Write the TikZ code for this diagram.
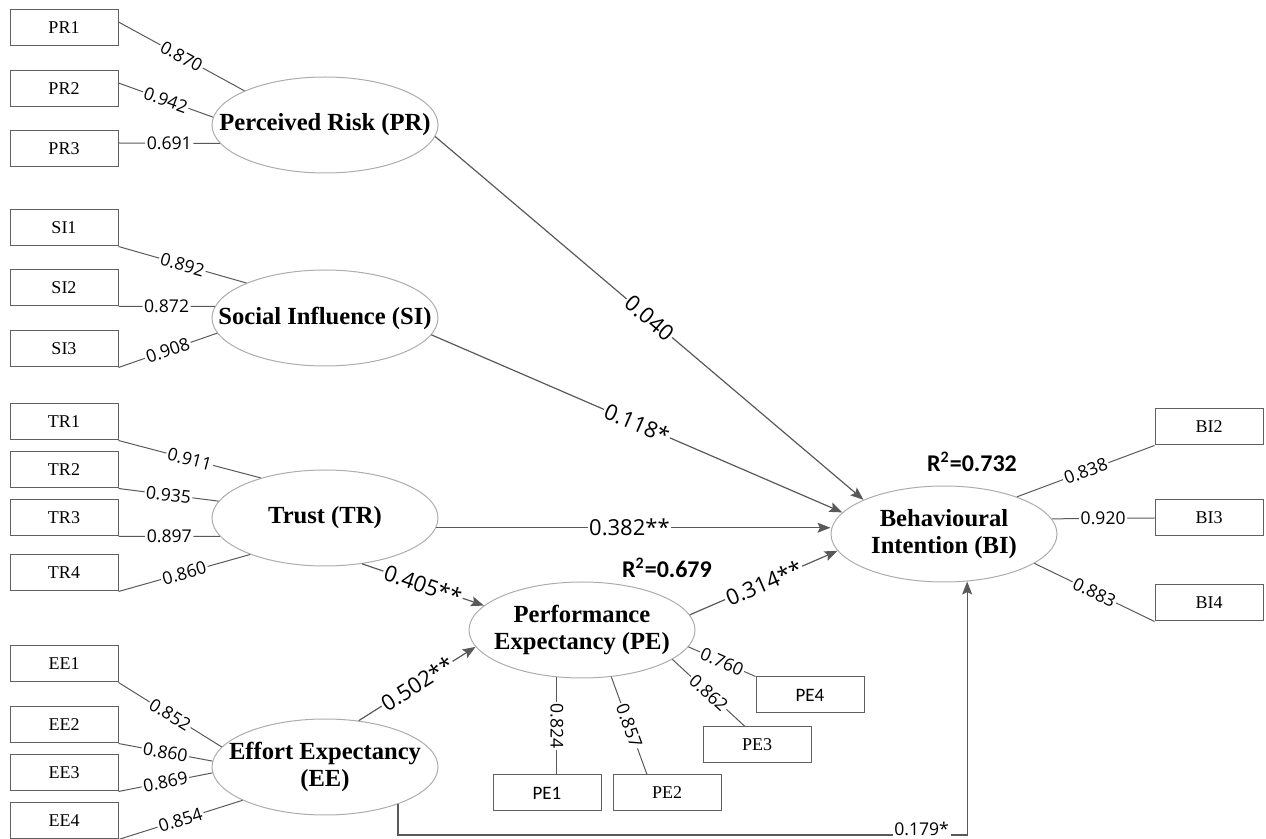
\documentclass[tikz,border=0pt]{standalone}
\usepackage{fontspec}
\setmainfont{Liberation Serif}
\newfontfamily\numfont{Open Sans}
\newfontfamily\calfont{Carlito}
\usetikzlibrary{calc,arrows.meta,shapes.geometric}

\begin{document}
\begin{tikzpicture}[x=0.5pt, y=-0.5pt,
    ind/.style={draw=gray!75!black, line width=0.5pt, minimum width=54pt, minimum height=18pt, inner sep=0pt, font=\fontsize{9}{10}\selectfont},
    indC/.style={ind, font=\calfont\fontsize{9.5}{10}\selectfont},
    lat/.style={ellipse, draw=gray!65, line width=0.5pt, minimum width=113pt, minimum height=48pt, inner xsep=-15pt, inner ysep=0pt, align=center, font=\fontsize{12.3}{13.8}\selectfont\bfseries},
    load/.style={draw=gray!70!black, line width=0.5pt},
    rel/.style={draw=gray!70!black, line width=0.6pt, -{Stealth[length=6.5pt, width=5pt, inset=1.2pt]}},
    ld/.style={font=\numfont\fontsize{8.8}{10}\selectfont, fill=white, inner sep=0.8pt, sloped},
    cf/.style={font=\numfont\fontsize{11}{12}\selectfont, fill=white, inner sep=0.8pt, sloped},
    rsq/.style={font=\calfont\bfseries\fontsize{12}{14}\selectfont}]

  \useasboundingbox (0,0) rectangle (1266,839);

  % ---------------- constructs ----------------
  \node[lat] (pr) at (325,125) {Perceived Risk (PR)};
  \node[lat] (si) at (325,318) {Social Influence (SI)};
  \node[lat] (tr) at (325,518) {Trust (TR)};
  \node[lat] (ee) at (325,767) {Effort Expectancy\\(EE)};
  \node[lat] (pe) at (582,630) {Performance\\Expectancy (PE)};
  \node[lat] (bi) at (944,534) {Behavioural\\Intention (BI)};
  \node[rsq] (r2pe) at (667,568) {R\textsuperscript{2}=0.679};
  \node[rsq] (r2bi) at (972,462) {R\textsuperscript{2}=0.732};

  % ---------------- indicators ----------------
  \node[ind] (pr1) at (64,28) {PR1};
  \node[ind] (pr2) at (64,89) {PR2};
  \node[ind] (pr3) at (64,149) {PR3};
  \node[ind] (si1) at (64,228) {SI1};
  \node[ind] (si2) at (64,288) {SI2};
  \node[ind] (si3) at (64,349) {SI3};
  \node[ind] (tr1) at (64,422) {TR1};
  \node[ind] (tr2) at (64,470) {TR2};
  \node[ind] (tr3) at (64,518) {TR3};
  \node[ind] (tr4) at (64,573) {TR4};
  \node[ind] (ee1) at (64,664) {EE1};
  \node[ind] (ee2) at (64,725) {EE2};
  \node[ind] (ee3) at (64,773) {EE3};
  \node[ind] (ee4) at (64,821) {EE4};
  \node[ind] (bi2) at (1209,427) {BI2};
  \node[ind] (bi3) at (1209,518) {BI3};
  \node[ind] (bi4) at (1209,603) {BI4};
  \node[indC] (pe1) at (547,793) {PE1};
  \node[ind] (pe2) at (667,793) {PE2};
  \node[ind] (pe3) at (757,745) {PE3};
  \node[indC] (pe4) at (810,695) {PE4};

  % ---------------- loadings ----------------
  \draw[load] ([yshift=3pt]pr1.east) -- node[ld]{0.870} (pr.157.6);
  \draw[load] ([yshift=3pt]pr2.east) -- node[ld]{0.942} (pr.176);
  \draw[load] ([yshift=3pt]pr3.east) -- node[ld]{0.691} (pr.190);
  \draw[load] (si1.south east) -- node[ld]{0.892} (si.156.4);
  \draw[load] (si2.south east) -- node[ld]{0.872} (si.174);
  \draw[load] (si3.south east) -- node[ld]{0.908} (si.188);
  \draw[load] (tr1.south east) -- node[ld]{0.911} (tr.148.2);
  \draw[load] (tr2.south east) -- node[ld]{0.935} (tr.171);
  \draw[load] (tr3.south east) -- node[ld]{0.897} (tr.190);
  \draw[load] (tr4.south east) -- node[ld]{0.860} (tr.206.9);
  \draw[load] (ee1.south east) -- node[ld]{0.852} (ee.169.4);
  \draw[load] (ee2.south east) -- node[ld]{0.860} (ee.177);
  \draw[load] (ee3.south east) -- node[ld]{0.869} (ee.183);
  \draw[load] (ee4.south east) -- node[ld]{0.854} (ee.202.7);
  \draw[load] (bi.27.5) -- node[ld]{0.838} (bi2.south west);
  \draw[load] (bi.8.5) -- node[ld]{0.920} (bi3.west);
  \draw[load] (bi.342) -- node[ld]{0.883} (bi4.south west);
  \draw[load] (pe.242) -- node[ld]{0.824} (pe.242 |- pe1.north);
  \draw[load] (pe.302) -- node[ld]{0.857} ([xshift=-10pt]pe2.north);
  \draw[load] (pe.342.7) -- node[ld]{0.862} ([xshift=-6pt]pe3.north);
  \draw[load] (pe.351.9) -- node[ld]{0.760} (pe4.north west);

  % ---------------- paths ----------------
  \draw[rel] (pr.354) -- node[cf]{0.040} (bi.157.5);
  \draw[rel] (si.351) -- node[cf]{0.118*} (bi.168.6);
  \draw[rel] (tr.355) -- node[cf, pos=.49]{0.382**} (tr.355 -| bi.west);
  \draw[rel] (tr.309) -- node[cf]{0.405**} (pe.166.9);
  \draw[rel] (ee.54.9) -- node[cf]{0.502**} (pe.189.5);
  \draw[rel] (pe.8.9) -- node[cf]{0.314**} (bi.189.1);
  \coordinate (low) at (0,835);
  \draw[rel] (ee.333) -- (ee.333 |- low) -- node[ld, pos=.92, yshift=3pt]{0.179*} (bi.296 |- low) -- (bi.296);
\end{tikzpicture}
\end{document}
